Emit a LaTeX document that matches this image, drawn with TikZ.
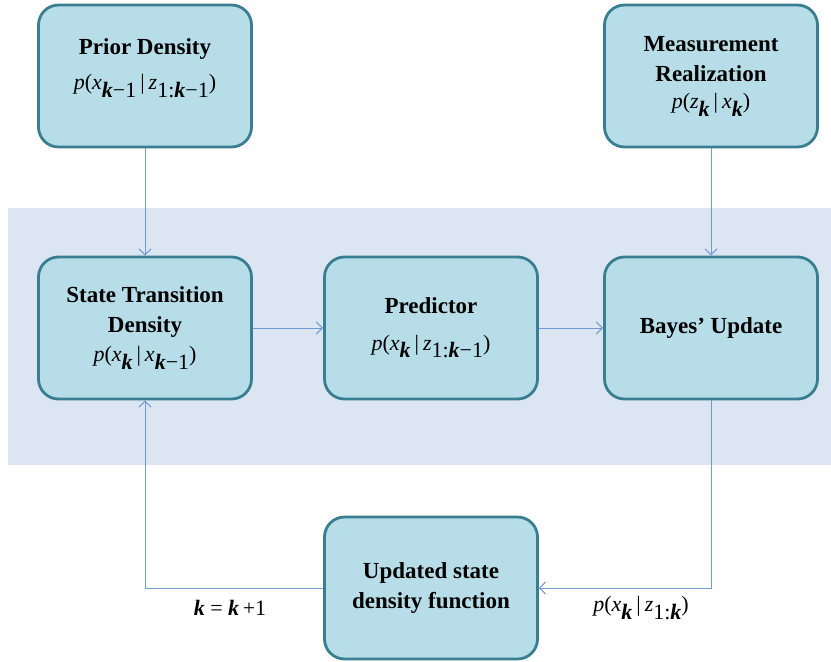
\documentclass[tikz,border=0pt]{standalone}
\usepackage{fontspec}
\setmainfont{Liberation Serif}
\usetikzlibrary{arrows.meta}
\definecolor{boxfill}{HTML}{B7DEE8}
\definecolor{boxdraw}{HTML}{3A7F91}
\definecolor{bandcol}{HTML}{DCE6F2}
\definecolor{conncol}{HTML}{6F9AD3}
\newcommand{\vk}{\textbf{\textit{k}}}
\newcommand{\sbs}[1]{\raisebox{-0.7ex}{#1}}
\newcommand{\mi}[1]{\textit{#1}}
\newcommand{\mline}[1]{{\mdseries\fontsize{22}{30}\selectfont #1}}
\newcommand{\cbar}{\kern4pt|\kern4pt}
\tikzset{
  fbox/.style={rectangle, rounded corners=20pt, fill=boxfill, draw=boxdraw, line width=2.8pt,
    minimum width=213pt, minimum height=142pt, align=center, inner sep=2pt,
    font=\fontsize{23}{30}\selectfont\bfseries},
  conn/.style={draw=conncol, line width=1pt, -{Straight Barb[length=6pt,width=12pt]}},
  lbl/.style={font=\fontsize{22}{24}\selectfont, inner sep=0pt}
}
\begin{document}
\begin{tikzpicture}[x=1pt,y=-1pt]
\useasboundingbox (0,0) rectangle (831,662);
\fill[bandcol] (8,208) rectangle (831,465);
\node[fbox] (prior) at (145,76) {Prior Density\\[5pt] \mline{\mi{p}(\mi{x}\sbs{\vk−1}\cbar\mi{z}\sbs{1:\vk−1})}\\[-7pt] \mbox{}};
\node[fbox] (meas) at (711,76) {Measurement\\ Realization\\[-2pt] \mline{\mi{p}(\mi{z}\sbs{\vk}\cbar\mi{x}\sbs{\vk})}};
\node[fbox] (st) at (145,328) {State Transition\\ Density\\[-1pt] \mline{\mi{p}(\mi{x}\sbs{\vk}\cbar\mi{x}\sbs{\vk−1})}};
\node[fbox] (pred) at (431,328) {Predictor\\[7pt] \mline{\mi{p}(\mi{x}\sbs{\vk}\cbar\mi{z}\sbs{1:\vk−1})}};
\node[fbox] (bayes) at (711,328) {Bayes’ Update};
\node[fbox] (upd) at (431,588) {Updated state\\ density function};
\draw[conn] (prior) -- (st);
\draw[conn] (meas) -- (bayes);
\draw[conn] (st) -- (pred);
\draw[conn] (pred) -- (bayes);
\draw[conn] (bayes.south) |- (upd.east);
\draw[conn] (upd.west) -| (st.south);
\node[lbl] (kk) at (230,608) {\vk\ = \vk\,+1};
\node[lbl] (post) at (641,608) {\mi{p}(\mi{x}\sbs{\vk}\cbar\mi{z}\sbs{1:\vk})};
\end{tikzpicture}
\end{document}
